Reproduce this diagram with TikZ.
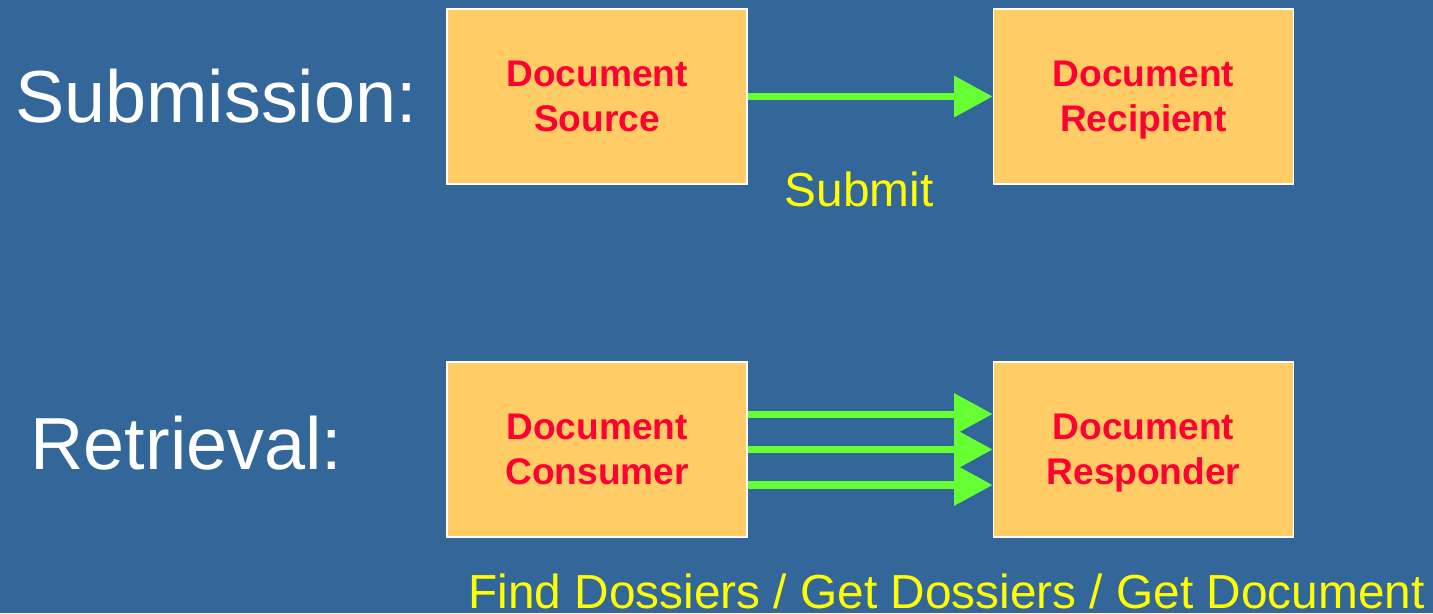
\documentclass[tikz,border=0pt]{standalone}
\usepackage{fontspec}
\setmainfont{Liberation Sans}
\usetikzlibrary{arrows.meta}
\definecolor{bgblue}{HTML}{336699}
\definecolor{boxfill}{HTML}{FFCC66}
\definecolor{boxtext}{HTML}{FF0033}
\definecolor{flowgreen}{HTML}{66FF33}
\definecolor{labelyellow}{HTML}{FFFF00}
\begin{document}
\begin{tikzpicture}[x=0.02cm,y=-0.02cm,
        actor/.style={draw=white,line width=1pt,fill=boxfill,minimum width=6cm,minimum height=3.5cm,
            text=boxtext,font=\fontsize{21.1}{25.5}\selectfont\bfseries,align=center,text depth=0pt},
        flow/.style={draw=flowgreen,line width=4pt,-{Triangle[length=22pt,width=22.7pt]}},
        title/.style={text=white,anchor=base,font=\fontsize{42}{48}\selectfont},
        msg/.style={text=labelyellow,anchor=base,font=\fontsize{27.2}{30}\selectfont}]
        \fill[bgblue] (0,0) rectangle (1433,613);
        \useasboundingbox (0,0) rectangle (1433,613);
        \path
        % submission row
        +(216, 122)  node[title]  (sub) {Submission:}
        +(597, 96.5)  node[actor]  (src) {Document\\Source}
        +(1143.5, 96.5)  node[actor]  (rcp) {Document\\Recipient}
        +(859, 206)  node[msg]  (submit) {Submit}
        % retrieval row
        +(186.5, 469)  node[title]  (ret) {Retrieval:}
        +(597, 449.5)  node[actor]  (cons) {Document\\Consumer}
        +(1143.5, 449.5)  node[actor]  (resp) {Document\\Responder}
        +(946.5, 608)  node[msg]  (queries) {Find Dossiers / Get Dossiers / Get Document};
        \draw[flow] (src)--(rcp);

        \draw[flow] ([yshift=0.71cm]cons.east)--([yshift=0.71cm]resp.west);
        \draw[flow] (cons)--(resp);
        \draw[flow] ([yshift=-0.71cm]cons.east)--([yshift=-0.71cm]resp.west);
    \end{tikzpicture}
\end{document}
